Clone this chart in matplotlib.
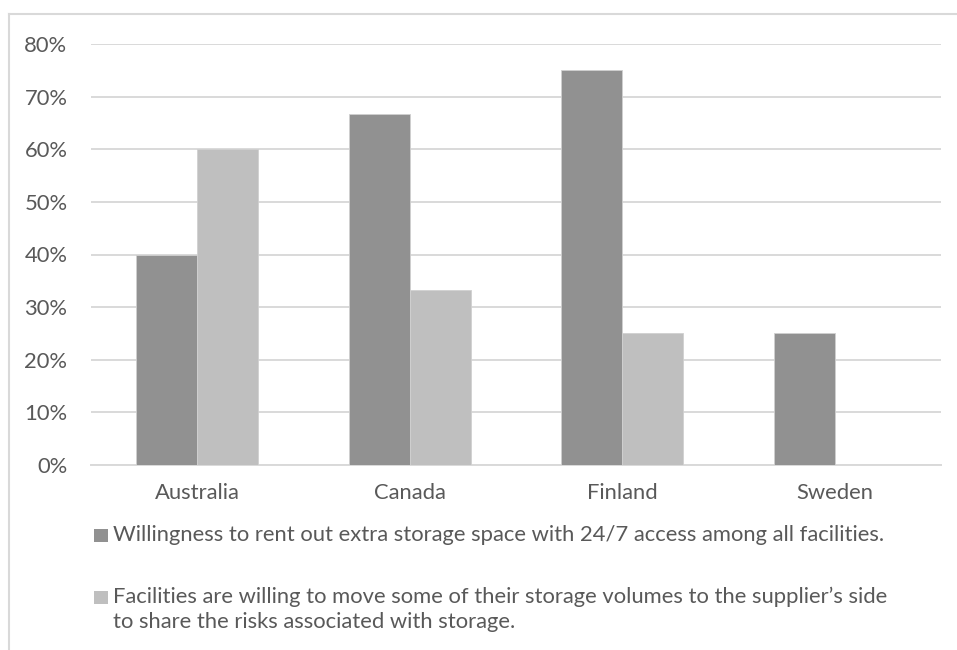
import matplotlib
matplotlib.use("Agg")
import matplotlib.pyplot as plt
from matplotlib.patches import Rectangle
from matplotlib.lines import Line2D
import numpy as np

countries = ["Australia", "Canada", "Finland", "Sweden"]
rent_out = [40.0, 66.7, 75.0, 25.0]
share_risk = [60.0, 33.3, 25.0, 0.0]
series_labels = [
    "Willingness to rent out extra storage space with 24/7 access among all facilities.",
    "Facilities are willing to move some of their storage volumes to the supplier\u2019s side\nto share the risks associated with storage.",
]
series_colors = ["#919191", "#bfbfbf"]
y_ticks = [0, 10, 20, 30, 40, 50, 60, 70, 80]

plt.rcParams["font.family"] = ["Lato", "DejaVu Sans"]
text_color = "#595959"
grid_color = "#d9d9d9"
fs = 15.8

W, H = 957, 650
fig = plt.figure(figsize=(W / 100, H / 100), dpi=100)
fig.patch.set_facecolor("white")

# plot area in pixel coordinates
x0, x1 = 91, 941
y_top, y_bot = 44, 465
ax = fig.add_axes([x0 / W, 1 - y_bot / H, (x1 - x0) / W, (y_bot - y_top) / H])

x = np.arange(len(countries))
bw = 0.287
ax.bar(x - bw / 2, rent_out, bw, color=series_colors[0], edgecolor="#d0d0d0", linewidth=0.6, zorder=3)
ax.bar(x + bw / 2, share_risk, bw, color=series_colors[1], edgecolor="#d0d0d0", linewidth=0.6, zorder=3)

ax.set_xlim(-0.5, len(countries) - 0.5)
ax.set_ylim(0, 80)
ax.set_yticks(y_ticks)
ax.set_yticklabels([f"{v}%" for v in y_ticks])
ax.set_xticks(x)
ax.set_xticklabels(countries)
ax.yaxis.grid(True, color=grid_color, linewidth=1.4, zorder=0)
ax.set_axisbelow(True)
for s in ["left", "right", "top"]:
    ax.spines[s].set_visible(False)
ax.spines["bottom"].set_color(grid_color)
ax.spines["bottom"].set_linewidth(1.4)
ax.tick_params(axis="both", length=0, labelsize=fs, colors=text_color)
ax.tick_params(axis="y", pad=17)
ax.tick_params(axis="x", pad=13)

# legend drawn below the plot area
leg_rows = [535, 597]
for lbl, col, yy in zip(series_labels, series_colors, leg_rows):
    fig.patches.append(Rectangle((94 / W, 1 - (yy + 7) / H), 14 / W, 13 / H,
                                 transform=fig.transFigure, facecolor=col, edgecolor="none"))
    for i, line in enumerate(lbl.split("\n")):
        fig.text(113 / W, 1 - (yy + 25 * i) / H, line, ha="left", va="center",
                 fontsize=fs, color=text_color)

# chart frame
fig.lines.append(Line2D([9 / W, 1], [1 - 14 / H, 1 - 14 / H], transform=fig.transFigure, color=grid_color, linewidth=1.5))
fig.lines.append(Line2D([9 / W, 9 / W], [0, 1 - 14 / H], transform=fig.transFigure, color=grid_color, linewidth=1.5))

fig.savefig("out.png", dpi=100, facecolor="white")
